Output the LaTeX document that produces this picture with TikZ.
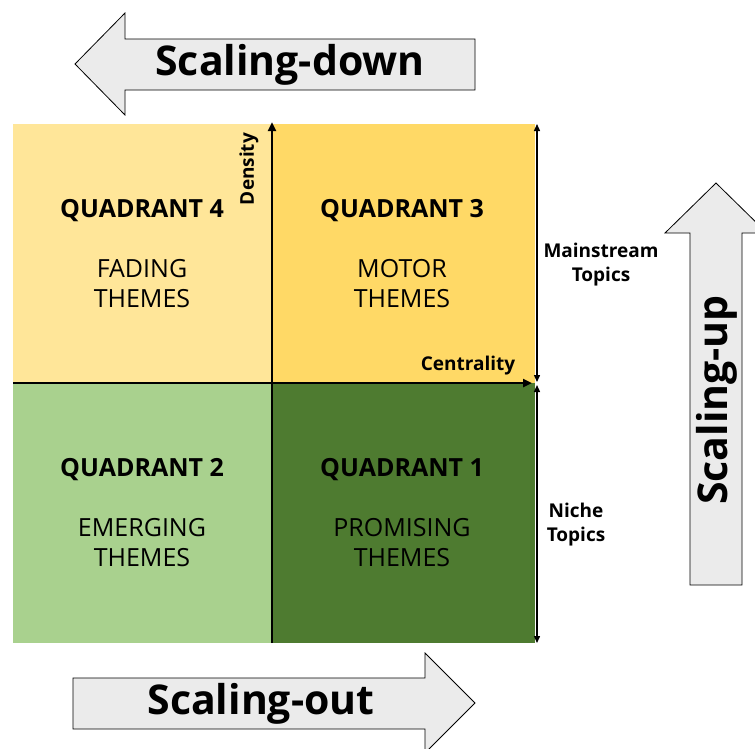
\documentclass[tikz,border=0pt]{standalone}
\usepackage{fontspec}
\setmainfont{Open Sans}
\usetikzlibrary{arrows.meta}

\definecolor{fadecol}{HTML}{FFE699}
\definecolor{motorcol}{HTML}{FFD966}
\definecolor{emergecol}{HTML}{A9D18E}
\definecolor{promisecol}{HTML}{4E7B30}
\definecolor{blockgray}{HTML}{EBEBEB}

\begin{document}
\begin{tikzpicture}[x=1pt,y=-1pt,
	blockarrow/.style={fill=blockgray,draw=black,line width=0.8pt,line join=miter},
	bigtext/.style={font=\fontsize{41}{46}\selectfont\bfseries},
	quadtitle/.style={font=\fontsize{25}{30}\selectfont\bfseries},
	quadtext/.style={font=\fontsize{25}{30}\selectfont,align=center},
	axislabel/.style={font=\fontsize{19}{24}\selectfont\bfseries,align=center},
	axis/.style={line width=2.4pt,-{Triangle[length=9pt,width=8pt]}},
	span/.style={line width=1.4pt,{Triangle[length=7pt,width=6pt]}-{Triangle[length=7pt,width=6pt]}}]
	\useasboundingbox (0,0) rectangle (755,748);
	% corners of the square and its centre
	\coordinate (NW) at (13,124);
	\coordinate (SE) at (535,643);
	\coordinate (O) at (272,383);
	\coordinate (N) at (O|-NW);
	\coordinate (S) at (O|-SE);
	\coordinate (W) at (O-|NW);
	\coordinate (E) at (O-|SE);
	\fill[fadecol] (NW) rectangle (O);
	\fill[motorcol] (N) rectangle (E);
	\fill[emergecol] (W) rectangle (S);
	\fill[promisecol] (O) rectangle (SE);
	% quadrant labels
	\foreach \n/\x/\y/\t in {4/142/211/FADING, 3/402/211/MOTOR, 2/142/470/EMERGING, 1/402/470/PROMISING}{
		\node[quadtitle] (q\n) at (\x,\y) {QUADRANT \n};
		\node[quadtext] (t\n) at (\x,\y+73) {\t\\THEMES};
	}
	% axes
	\coordinate (ytop) at ([yshift=2]N);
	\coordinate (xend) at ([xshift=-3]E);
	\draw[axis] (S) -- (ytop);
	\draw[axis] (W) -- (xend);
	\node[axislabel,rotate=90] (dens) at (249,169) {Density};
	\node[axislabel] (cent) at (468,366) {Centrality};
	% topic spans on the right
	\coordinate (r1) at (537,124);
	\coordinate (r2) at (537,382);
	\coordinate (r3) at (537,385);
	\coordinate (r4) at (537,643);
	\draw[span] (r1) -- (r2);
	\draw[span] (r3) -- (r4);
	\node[axislabel] (main) at (601,265) {Mainstream\\Topics};
	\node[axislabel] (niche) at (576,525) {Niche\\Topics};
	% block arrows
	\draw[blockarrow] (475,39) -- (125,39) -- (125,13) -- (75,64) -- (125,115) -- (125,90) -- (475,90) -- cycle;
	\draw[blockarrow] (73,678) -- (425,678) -- (425,653) -- (475,703) -- (425,753) -- (425,729) -- (73,729) -- cycle;
	\draw[blockarrow] (690,585) -- (690,233) -- (665,233) -- (716,183) -- (767,233) -- (742,233) -- (742,585) -- cycle;
	\node[bigtext] (down) at (290,65) {Scaling-down};
	\node[bigtext] (out) at (261,704) {Scaling-out};
	\node[bigtext,rotate=90] (up) at (717,400) {Scaling-up};
\end{tikzpicture}
\end{document}
